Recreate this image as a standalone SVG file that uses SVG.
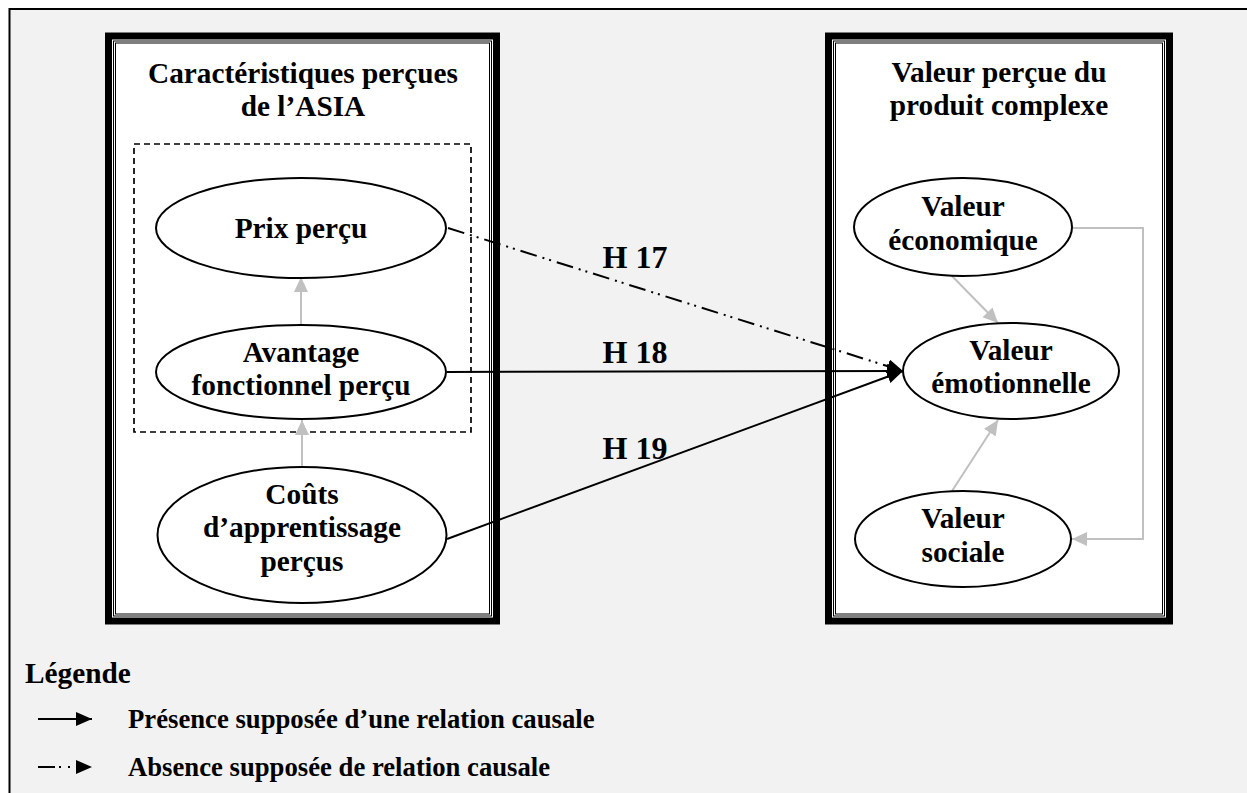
<svg xmlns="http://www.w3.org/2000/svg" width="1247" height="793" viewBox="0 0 1247 793">
  <style>
    text { font-family: "Liberation Serif", "Times New Roman", serif; font-weight: bold; fill: #000; }
    .t { font-size: 29.3px; text-anchor: middle; }
    .h { font-size: 32px; text-anchor: middle; }
    .lg { font-size: 26.7px; }
    .band { fill: none; stroke: #000; stroke-width: 7; }
    .thin { fill: none; stroke: #000; stroke-width: 1; }
    .node { fill: #fff; stroke: #000; stroke-width: 2; }
    .gray { fill: none; stroke: #c0c0c0; stroke-width: 2; marker-end: url(#ga); }
    .blk { fill: none; stroke: #000; stroke-width: 2; marker-end: url(#ba); }
    .dd { stroke-dasharray: 17 6 2 5 2 6; }
  </style>
  <defs>
    <marker id="ga" markerUnits="userSpaceOnUse" markerWidth="16" markerHeight="16" refX="15" refY="7" orient="auto">
      <path d="M0,0 L15,7 L0,14 Z" fill="#c0c0c0"/>
    </marker>
    <marker id="ba" markerUnits="userSpaceOnUse" markerWidth="18" markerHeight="16" refX="16" refY="7" orient="auto">
      <path d="M0,0 L16,7 L0,14 Z" fill="#000"/>
    </marker>
  </defs>

  <rect x="0" y="0" width="1247" height="793" fill="#fff"/>
  <rect x="9.5" y="9" width="1300" height="900" fill="#f2f2f2" stroke="#000" stroke-width="2"/>

  <g id="box-left">
    <rect x="105" y="32.5" width="395" height="592" fill="#fff"/>
    <rect class="band" x="108.5" y="36" width="388" height="585"/>
    <rect class="thin" x="113.5" y="41" width="378" height="575"/>
    <rect class="thin" x="115.5" y="43" width="374" height="571"/>
    <text class="t" x="303" y="83">Caractéristiques perçues</text>
    <text class="t" x="303" y="116">de l’ASIA</text>
    <rect x="134" y="144" width="337" height="288" fill="none" stroke="#000" stroke-width="1.7" stroke-dasharray="6 4"/>
  </g>

  <g id="box-right">
    <rect x="825" y="32.5" width="348" height="592" fill="#fff"/>
    <rect class="band" x="828.5" y="36" width="341" height="585"/>
    <rect class="thin" x="833.5" y="41" width="331" height="575"/>
    <rect class="thin" x="835.5" y="43" width="327" height="571"/>
    <text class="t" x="999" y="82">Valeur perçue du</text>
    <text class="t" x="999" y="115">produit complexe</text>
  </g>

  <g id="connectors">
    <line class="gray" x1="301" y1="325" x2="301" y2="277"/>
    <line class="gray" x1="302" y1="467" x2="302" y2="420"/>
    <line class="gray" x1="952" y1="276" x2="998" y2="323"/>
    <line class="gray" x1="952" y1="491" x2="998" y2="420"/>
    <polyline class="gray" points="1072,228 1143,228 1143,539 1072,539"/>
    <line class="blk dd" x1="448" y1="228" x2="903" y2="371"/>
    <line class="blk" x1="447" y1="372" x2="903" y2="371"/>
    <line class="blk" x1="447" y1="539" x2="903" y2="371"/>
  </g>

  <g id="node-prix">
    <ellipse class="node" cx="301" cy="228" rx="145" ry="50"/>
    <text class="t" x="301" y="238">Prix perçu</text>
  </g>
  <g id="node-avantage">
    <ellipse class="node" cx="301" cy="372" rx="145" ry="47"/>
    <text class="t" x="301" y="362">Avantage</text>
    <text class="t" x="301" y="395">fonctionnel perçu</text>
  </g>
  <g id="node-couts">
    <ellipse class="node" cx="302" cy="535" rx="144.5" ry="68"/>
    <text class="t" x="302" y="504">Coûts</text>
    <text class="t" x="302" y="537">d’apprentissage</text>
    <text class="t" x="302" y="571">perçus</text>
  </g>
  <g id="node-economique">
    <ellipse class="node" cx="963" cy="227" rx="109" ry="49"/>
    <text class="t" x="963" y="216">Valeur</text>
    <text class="t" x="963" y="250">économique</text>
  </g>
  <g id="node-emotionnelle">
    <ellipse class="node" cx="1011" cy="371" rx="108" ry="48"/>
    <text class="t" x="1011" y="360">Valeur</text>
    <text class="t" x="1011" y="393">émotionnelle</text>
  </g>
  <g id="node-sociale">
    <ellipse class="node" cx="963" cy="539" rx="108" ry="48"/>
    <text class="t" x="963" y="528">Valeur</text>
    <text class="t" x="963" y="562">sociale</text>
  </g>

  <g id="labels">
    <text class="h" x="635" y="268">H 17</text>
    <text class="h" x="635" y="363">H 18</text>
    <text class="h" x="635" y="459">H 19</text>
  </g>

  <g id="legend">
    <text x="25" y="683" style="font-size:29.3px">Légende</text>
    <line class="blk" x1="38" y1="719" x2="92" y2="719"/>
    <text class="lg" x="128" y="728">Présence supposée d’une relation causale</text>
    <line class="blk" x1="38" y1="767" x2="92" y2="767" stroke-dasharray="17 4 2 7 2 30"/>
    <text class="lg" x="128" y="776">Absence supposée de relation causale</text>
  </g>
</svg>
